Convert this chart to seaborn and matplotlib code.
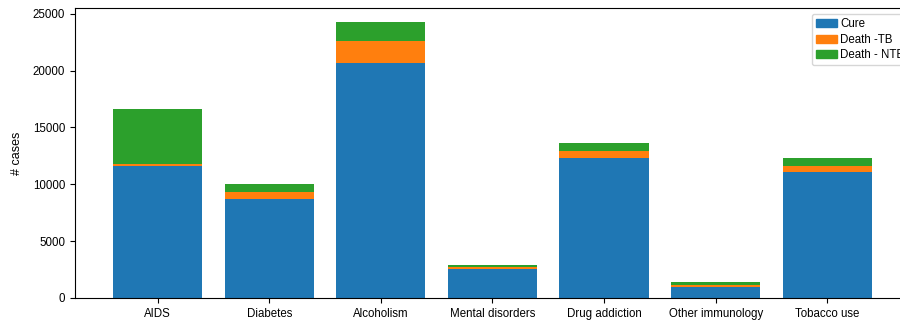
import pandas as pd
import seaborn as sns
import matplotlib.pyplot as plt
from matplotlib.patches import Patch

# values
categories = ['AIDS', 'Diabetes', 'Alcoholism', 'Mental disorders',
              'Drug addiction', 'Other immunology', 'Tobacco use']
cure = [11600, 8700, 20700, 2550, 12350, 1000, 11050]
death_tb = [200, 650, 1900, 180, 600, 130, 600]
death_ntb = [4800, 700, 1700, 180, 700, 270, 650]

plt.rcParams['font.family'] = ['Liberation Sans', 'DejaVu Sans']
plt.rcParams['font.size'] = 8.3

df = pd.DataFrame({'disease': categories, 'Cure': cure,
                   'Death -TB': death_tb, 'Death - NTB': death_ntb})
# stacked bars: draw cumulative totals, tallest first
df['tb_top'] = df['Cure'] + df['Death -TB']
df['ntb_top'] = df['tb_top'] + df['Death - NTB']

fig = plt.figure(figsize=(9, 3.23), dpi=100)
ax = fig.add_axes([0.0833, 0.0774, 1.011 - 0.0833, 0.975 - 0.0774])

colors = ['#1f77b4', '#ff7f0e', '#2ca02c']
sns.barplot(data=df, x='disease', y='ntb_top', color=colors[2], saturation=1, width=0.8, linewidth=0, ax=ax)
sns.barplot(data=df, x='disease', y='tb_top', color=colors[1], saturation=1, width=0.8, linewidth=0, ax=ax)
sns.barplot(data=df, x='disease', y='Cure', color=colors[0], saturation=1, width=0.8, linewidth=0, ax=ax)

ax.set_xlim(-0.74, 6.74)
ax.set_ylim(0, 25500)
ax.set_xlabel('')
ax.set_ylabel('# cases', fontsize=9, labelpad=7)

handles = [Patch(color=c) for c in colors]
ax.legend(handles, ['Cure', 'Death -TB', 'Death - NTB'], loc='upper left',
          bbox_to_anchor=(0.8826, 0.979), borderaxespad=0,
          handlelength=1.8, handletextpad=0.3, labelspacing=0.3, borderpad=0.35)

fig.savefig('out.png', dpi=100)
